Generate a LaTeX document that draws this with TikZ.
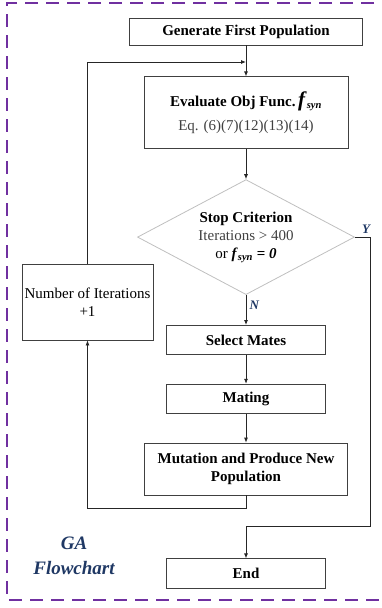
\documentclass[tikz,border=0pt]{standalone}
\usepackage{fontspec}
\setmainfont{Liberation Serif}
\usetikzlibrary{arrows.meta,positioning,shapes.geometric}
\definecolor{gapurple}{HTML}{7030A0}
\definecolor{ganavy}{HTML}{1F3864}
\definecolor{gagray}{HTML}{404040}
\definecolor{galight}{HTML}{BFBFBF}
\newcommand{\fsyn}{\textit{f}\textsubscript{\textit{syn}}}

\begin{document}
\begin{tikzpicture}[x=1pt,y=-1pt,
  every node/.style={font=\fontsize{15}{18}\selectfont},
  box/.style={draw=gagray,line width=0.8pt,align=center,inner sep=0pt,font=\fontsize{15}{18}\selectfont\bfseries},
  dia/.style={diamond,draw=galight,line width=0.8pt,align=center,inner sep=0pt,aspect=1.89,minimum width=217pt,minimum height=115pt},
  lbl/.style={text=ganavy,font=\fontsize{13}{15}\selectfont\bfseries\itshape},
  arr/.style={-{Latex[length=5pt,width=4pt]},line width=0.8pt,draw=black!85}
]
\useasboundingbox (0,0) rectangle (381,608);
\draw[gapurple,line width=2pt,dash pattern=on 13pt off 8pt] (395,3) -- (7,3) -- (7,600) -- (395,600);

\node[box,minimum width=233pt,minimum height=27pt] (gen) at (246,31.5) {Generate First Population};
\node[box,minimum width=204pt,minimum height=72pt,below=31pt of gen] (eval) {Evaluate Obj Func.\,{\fontsize{21}{21}\selectfont\textit{f}}\textsubscript{\textit{syn}}\\[6pt]{\mdseries\color{gagray}Eq. (6)(7)(12)(13)(14)}};
\node[dia,below=30pt of eval] (stop) {\textbf{Stop Criterion}\\{\color{gagray}Iterations > 400}\\or \textbf{\fsyn\ = \textit{0}}};
\node[box,minimum width=159pt,minimum height=29pt,below=30pt of stop] (sel) {Select Mates};
\node[box,minimum width=159pt,minimum height=29pt,below=29pt of sel] (mate) {Mating};
\node[box,minimum width=203pt,minimum height=52pt,below=29pt of mate] (mut) {Mutation and Produce New\\Population};
\node[box,minimum width=159pt,minimum height=30pt,below=63pt of mut] (end) {End};
\node[box,font=\fontsize{15}{18}\selectfont,minimum width=131pt,minimum height=76pt] (iter) at (87.5,302) {Number of Iterations\\+1};

\node[lbl,font=\fontsize{19}{25}\selectfont\bfseries\itshape,align=center] (title) at (74,556) {GA\\Flowchart};

\coordinate (join) at (246,62);
\coordinate (ymerge) at (246,526);
\draw[arr] (gen) -- (eval);
\draw[arr] (iter.north) |- (join);
\draw[arr] (eval) -- (stop);
\draw[arr] (stop) -- node[lbl,right,pos=0.35] {N} (sel);
\draw[arr] (sel) -- (mate);
\draw[arr] (mate) -- (mut);
\draw[arr] (mut.south) -- ++(0,13) -| (iter.south);
\draw[arr] (stop.east) -- node[lbl,above,pos=0.75] {Y} ++(15,0) |- (ymerge) -- (end);
\end{tikzpicture}
\end{document}
